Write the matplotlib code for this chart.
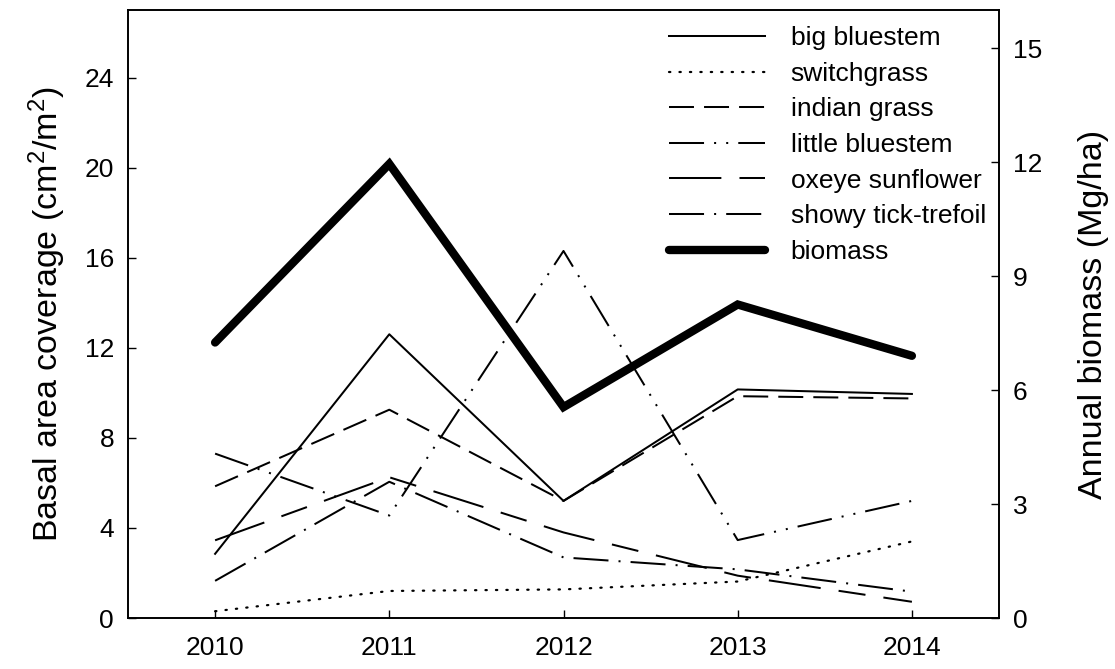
import numpy as np
import matplotlib
matplotlib.use("Agg")
import matplotlib.pyplot as plt

plt.rcParams['font.family'] = ['Liberation Sans', 'DejaVu Sans']
plt.rcParams['mathtext.fontset'] = 'custom'
plt.rcParams['mathtext.rm'] = 'Liberation Sans'
plt.rcParams['mathtext.it'] = 'Liberation Sans:italic'

# basal area coverage of species (cm2/m2) and annual biomass (Mg/ha)
years = [2010, 2011, 2012, 2013, 2014]
big_bluestem = [2.85, 12.6, 5.2, 10.15, 9.95]
switchgrass = [0.3, 1.2, 1.27, 1.62, 3.4]
indian_grass = [5.85, 9.25, 5.2, 9.85, 9.75]
little_bluestem = [7.3, 4.55, 16.3, 3.46, 5.2]
oxeye_sunflower = [3.45, 6.25, 3.8, 1.88, 0.72]
showy_tick_trefoil = [1.65, 6.05, 2.69, 2.16, 1.17]
biomass = [7.25, 11.95, 5.55, 8.25, 6.9]

fig = plt.figure(figsize=(11.15, 6.69), dpi=100)
ax = fig.add_axes([128/1115, 1-618/669, (999-128)/1115, (618-10)/669])
ax2 = ax.twinx()

lw = 1.45
h1, = ax.plot(years, big_bluestem, color='black', lw=lw, ls='-', label='big bluestem')
h2, = ax.plot(years, switchgrass, color='black', lw=1.6, ls=(0, (0.6, 4.1)),
              dash_capstyle='round', label='switchgrass')
h3, = ax.plot(years, indian_grass, color='black', lw=lw, ls=(0, (12.4, 5)), label='indian grass')
h4, = ax.plot(years, little_bluestem, color='black', lw=lw, ls=(0, (17.4, 5, 1, 5, 1, 5)), label='little bluestem')
h5, = ax.plot(years, oxeye_sunflower, color='black', lw=lw, ls=(0, (26, 9, 13.5, 9)), label='oxeye sunflower')
h6, = ax.plot(years, showy_tick_trefoil, color='black', lw=lw, ls=(0, (17.4, 5, 1, 5)), label='showy tick-trefoil')
h7, = ax2.plot(years, biomass, color='black', lw=6.0, solid_capstyle='round',
               solid_joinstyle='miter', label='biomass')

ax.set_xlim(2009.5, 2014.5)
ax.set_ylim(0, 27)
ax2.set_ylim(0, 16)
ax.set_xticks(years)
ax.set_yticks(np.arange(0, 25, 4))
ax2.set_yticks(np.arange(0, 16, 3))

ax.tick_params(axis='both', direction='in', length=6, width=1, labelsize=19)
ax.tick_params(axis='x', pad=13)
ax.tick_params(axis='y', pad=10)
ax2.tick_params(axis='y', direction='in', length=6, width=1, labelsize=19, pad=10)
for a in (ax, ax2):
    for s in a.spines.values():
        s.set_linewidth(1.2)

ax.set_ylabel('Basal area coverage (cm$^2$/m$^2$)', fontsize=24.5, labelpad=12)
ax2.set_ylabel('Annual biomass (Mg/ha)', fontsize=24.5, labelpad=26)

handles = [h1, h2, h3, h4, h5, h6, h7]
ax2.legend(handles, [h.get_label() for h in handles], loc='upper right',
           frameon=False, fontsize=19, handlelength=3.67, handletextpad=0.95,
           labelspacing=0.44, borderaxespad=0.1, bbox_to_anchor=(1.0, 0.995))

fig.savefig('out.png', dpi=100)
